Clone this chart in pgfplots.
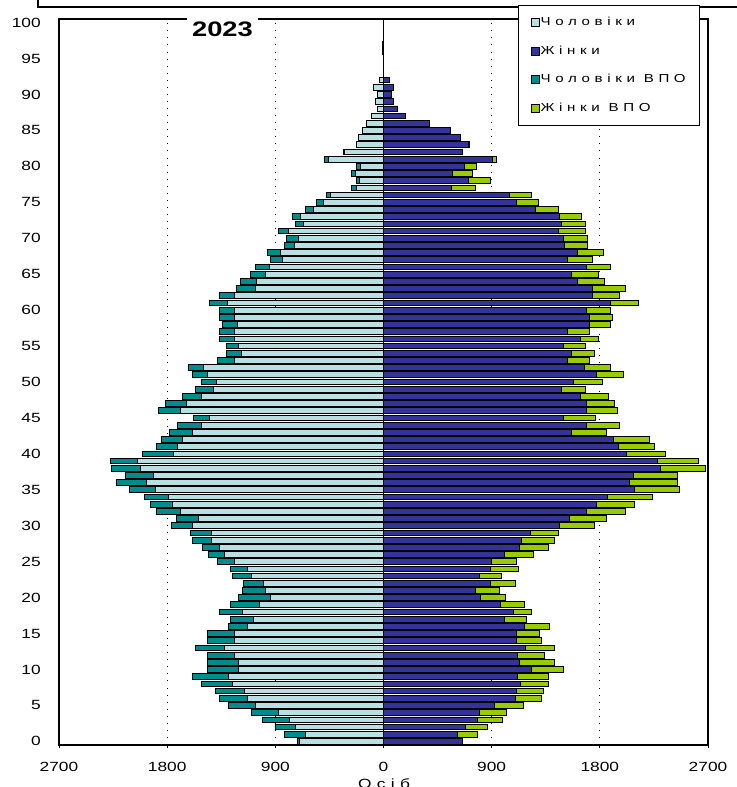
\documentclass[border=0pt]{standalone}
\usepackage{fontspec}
\setmainfont{Liberation Sans}[FakeStretch=1.3]
\newfontfamily\legfont{Liberation Sans}[FakeStretch=1.3,LetterSpace=40]
\usepackage{pgfplots}
\usepackage{pgfplotstable}
\pgfplotsset{compat=1.18}

\definecolor{menc}{RGB}{184,224,226}
\definecolor{womc}{RGB}{51,51,153}
\definecolor{menidp}{RGB}{0,140,140}
\definecolor{womidp}{RGB}{153,204,0}

\pgfplotstableread{
age m mi w wi
0 696 20 653 0
1 649 172 614 164
2 735 168 684 184
3 786 223 782 211
4 872 227 798 226
5 1067 223 927 234
6 1134 227 1095 223
7 1157 243 1103 226
8 1255 262 1142 227
9 1290 297 1114 255
10 1204 262 1232 262
11 1204 262 1130 293
12 1236 230 1114 223
13 1322 242 1181 242
14 1236 230 1103 215
15 1236 230 1103 195
16 1134 156 1169 215
17 1079 192 1005 188
18 1173 188 1083 145
19 1028 247 974 199
20 942 262 809 208
21 981 192 762 204
22 997 168 888 207
23 1099 156 798 187
24 1134 141 888 234
25 1236 144 899 211
26 1322 136 1005 242
27 1361 144 1130 239
28 1431 156 1150 273
29 1431 176 1220 235
30 1587 176 1466 290
31 1537 187 1544 313
32 1693 196 1689 325
33 1760 179 1775 313
34 1791 195 1865 372
35 1896 215 2088 375
36 1975 246 2049 395
37 1916 235 2080 364
38 2025 235 2303 375
39 2045 227 2276 344
40 1744 262 2021 321
41 1713 176 1951 305
42 1673 176 1912 305
43 1587 192 1564 289
44 1517 196 1689 274
45 1447 137 1501 266
46 1693 176 1689 254
47 1642 176 1689 235
48 1517 156 1638 235
49 1412 156 1482 199
50 1392 125 1584 234
51 1466 121 1775 219
52 1498 125 1670 215
53 1236 144 1533 183
54 1185 125 1564 192
55 1204 106 1494 187
56 1236 125 1638 149
57 1236 125 1533 183
58 1216 125 1716 176
59 1236 125 1716 188
60 1236 125 1689 203
61 1302 149 1892 227
62 1243 126 1740 223
63 1067 157 1740 274
64 1056 137 1611 227
65 978 129 1564 223
66 950 117 1689 203
67 841 97 1533 203
68 860 102 1611 215
69 743 82 1505 192
70 708 98 1494 203
71 794 78 1454 227
72 669 66 1482 199
73 688 67 1462 188
74 586 63 1267 187
75 500 59 1110 176
76 442 31 1044 184
77 227 39 567 195
78 196 31 704 184
79 230 33 570 169
80 190 32 675 100
81 455 35 903 35
82 324 8 659 0
83 224 0 708 8
84 207 0 642 0
85 173 0 554 0
86 138 0 380 0
87 97 0 182 0
88 47 0 119 0
89 66 0 83 0
90 52 0 63 0
91 83 0 86 0
92 33 0 50 0
93 0 0 0 0
94 0 0 0 0
95 0 0 0 0
96 10 0 0 0
97 10 0 0 0
98 0 0 0 0
99 0 0 0 0
100 0 0 0 0
}\popdata

\begin{document}
\begin{tikzpicture}
\useasboundingbox (-44.25pt,-31.5pt) rectangle (508.5pt,558.75pt);
\draw[line width=1pt] (-15.75pt,562pt) -- (-15.75pt,553.5pt) -- (512pt,553.5pt);
\pgfplotsset{common/.style={width=486.75pt,height=544.5pt,scale only axis,
  xmin=-2700,xmax=2700,ymin=-0.5,ymax=100.5,
  xbar stacked, bar width=4.3pt,
  /pgf/number format/assume math mode=true}}
\begin{axis}[common,
  axis line style={black,line width=1pt},
  xtick={-2700,-1800,-900,0,900,1800,2700},
  xticklabels={2700,1800,900,0,900,1800,2700},
  ytick={0,5,...,100},
  xmajorgrids,
  major grid style={black,line width=0.7pt,dash pattern=on 0.7pt off 4.6pt},
  tick align=outside, xtick pos=bottom, ytick pos=left,
  major tick length=2.5pt,
  xtick style={black,line width=0.7pt},
  ytick style={draw=none},
  ticklabel style={font=\fontsize{10}{12}\selectfont},
  yticklabel style={inner sep=0pt, xshift=-11pt},
  xticklabel style={inner sep=0pt, yshift=-10pt},
]
\addplot[fill=menc, draw=black, line width=0.7pt] table[x expr=-\thisrow{m}, y=age] {\popdata};
\addplot[fill=menidp, draw=black, line width=0.7pt] table[x expr=-\thisrow{mi}, y=age] {\popdata};
\end{axis}
\begin{axis}[common, hide axis,
  legend style={at={(0.7072,1.0193)}, anchor=north west, draw=black, line width=0.8pt,
    fill=white, font=\legfont\fontsize{8.7}{10}\selectfont,
    inner xsep=9pt, inner ysep=8pt, row sep=11.5pt,
    /tikz/every odd column/.append style={column sep=0pt},
    nodes={inner sep=1pt, text height=6.3pt, text depth=1.5pt}},
  legend cell align=left,
  legend image code/.code={\draw[#1, line width=0.6pt, draw=black] (0pt,-3pt) rectangle (6pt,3pt);},
]
\addlegendimage{fill=menc}
\addlegendentry{Чоловіки}
\addlegendimage{fill=womc}
\addlegendentry{Жінки}
\addlegendimage{fill=menidp}
\addlegendentry{Чоловіки ВПО}
\addlegendimage{fill=womidp}
\addlegendentry{Жінки ВПО}
\addplot[forget plot, fill=womc, draw=black, line width=0.7pt] table[x=w, y=age] {\popdata};
\addplot[forget plot, fill=womidp, draw=black, line width=0.7pt] table[x=wi, y=age] {\popdata};
\draw[black, line width=0.9pt] (axis cs:0,-0.5) -- (axis cs:0,100.5);
\end{axis}
\node[fill=white, inner xsep=3.5pt, inner ysep=3.5pt, font=\bfseries\fontsize{15.75}{18}\selectfont] at (122.6pt,536.6pt) {2023};
\node[anchor=north, inner sep=0pt, font=\legfont\fontsize{10}{12}\selectfont] at (243.75pt,-24.75pt) {Осіб};
\end{tikzpicture}
\end{document}
